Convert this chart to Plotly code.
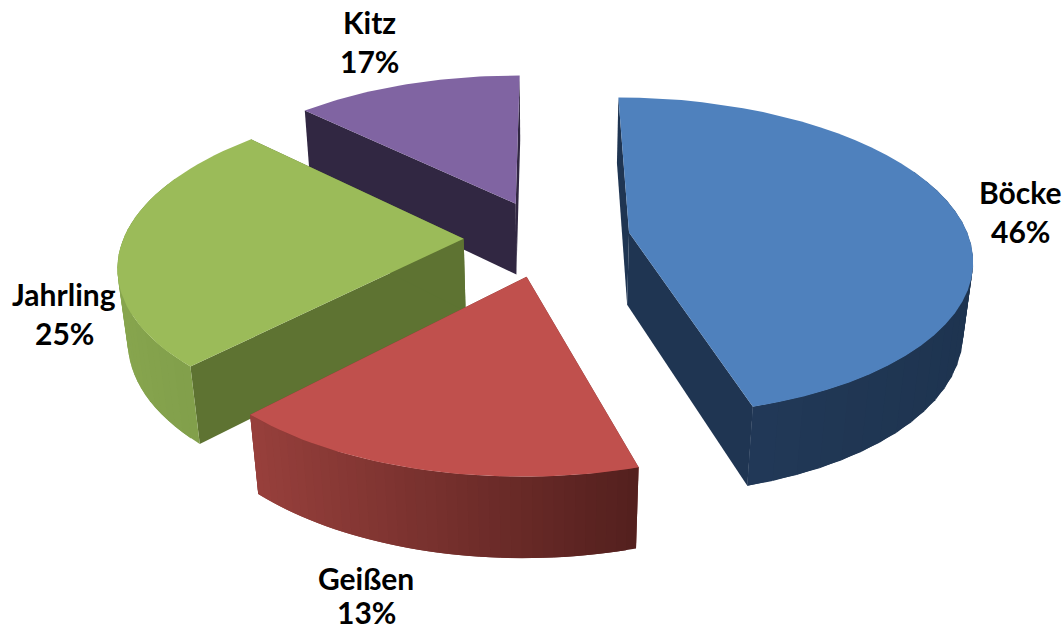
import math
import plotly.graph_objects as go

# Data
categories = ["Böcke", "Geißen", "Jahrling", "Kitz"]
percent_labels = ["46%", "13%", "25%", "17%"]      # as printed on the chart
drawn_shares = [45.5, 16.6, 25.2, 12.7]            # share of the circle each slice occupies as drawn

# Styles
top_colors = ["#4F81BD", "#C0504D", "#9BBB59", "#8064A2"]
wall_colors = ["#1F3552", "#7A3230", "#5E7332", "#312742"]
rim_right = [(30, 52, 80), (84, 32, 30), (125, 155, 72), (49, 39, 66)]
rim_left = [(36, 60, 92), (152, 64, 60), (135, 165, 78), (49, 39, 66)]
label_pos = [(1020, 192, 231), (366, 578, 612), (64, 294, 333), (369, 22, 61)]

# Projection (layout of the drawing, in axis units = pixels)
CX, CY, A, B, H = 547.0, 238.0, 340.0, 157.0, 74.0
K, M, EXPLODE = 0.15, 0.024, 0.245
FONT = "Lato"


def project(u, v, down=0.0):
    w = 1 + K * v + M * down
    return CX + A * u / w, CY - B * v / w + H * down / w


def mix(a, b, t):
    return "rgb(%d,%d,%d)" % tuple(round(a[i] + (b[i] - a[i]) * t) for i in range(3))


def poly(fig, pts, color):
    xs = [p[0] for p in pts] + [pts[0][0]]
    ys = [p[1] for p in pts] + [pts[0][1]]
    fig.add_trace(go.Scatter(x=xs, y=ys, mode="lines", fill="toself", fillcolor=color,
                             line=dict(color=color, width=0), hoverinfo="skip", showlegend=False))


total = sum(drawn_shares)
slices = []
start = 0.0
for i, share in enumerate(drawn_shares):
    sweep = share / total * 2 * math.pi
    slices.append((i, start, start + sweep))
    start += sweep

fig = go.Figure()
# painter's order: furthest slice first
for i, a0, a1 in sorted(slices, key=lambda s: -math.cos((s[1] + s[2]) / 2)):
    mid = (a0 + a1) / 2
    ou, ov = EXPLODE * math.sin(mid), EXPLODE * math.cos(mid)
    n = 40
    angles = [a0 + (a1 - a0) * j / n for j in range(n + 1)]
    rim = [(ou + math.sin(a), ov + math.cos(a)) for a in angles]
    # cut walls
    for (u, v) in (rim[0], rim[-1]):
        poly(fig, [project(ou, ov), project(u, v), project(u, v, 1), project(ou, ov, 1)], wall_colors[i])
    # outer rim: segments overlap the next one so that no seams show
    xs_all = [project(*r)[0] for r in rim]
    lo, hi = min(xs_all), max(xs_all)
    for j in range(n):
        if rim[j][1] - ov > 0.35 and rim[min(j + 1, n)][1] - ov > 0.35:
            continue
        k = min(j + 2, n)
        t = (hi - xs_all[j]) / (hi - lo)
        poly(fig, [project(*rim[j]), project(*rim[k]), project(*rim[k], 1), project(*rim[j], 1)],
             mix(rim_right[i], rim_left[i], t))
    # top face
    poly(fig, [project(ou, ov)] + [project(*r) for r in rim], top_colors[i])

annotations = []
for name, pct, (x, y1, y2) in zip(categories, percent_labels, label_pos):
    for text, y in ((name, y1), (pct, y2)):
        annotations.append(dict(x=x, y=y, text="<b>%s</b>" % text, showarrow=False,
                                xanchor="center", yanchor="middle",
                                font=dict(family=FONT, size=30, color="#000000")))

fig.update_layout(
    width=1063, height=630, margin=dict(l=0, r=0, t=0, b=0),
    paper_bgcolor="white", plot_bgcolor="white", showlegend=False,
    xaxis=dict(range=[0, 1063], visible=False, fixedrange=True),
    yaxis=dict(range=[630, 0], visible=False, fixedrange=True),
    annotations=annotations,
)
fig.write_html("out.html", config={"displayModeBar": False},
               post_script="document.body.style.margin='0';document.body.style.overflow='hidden';")
